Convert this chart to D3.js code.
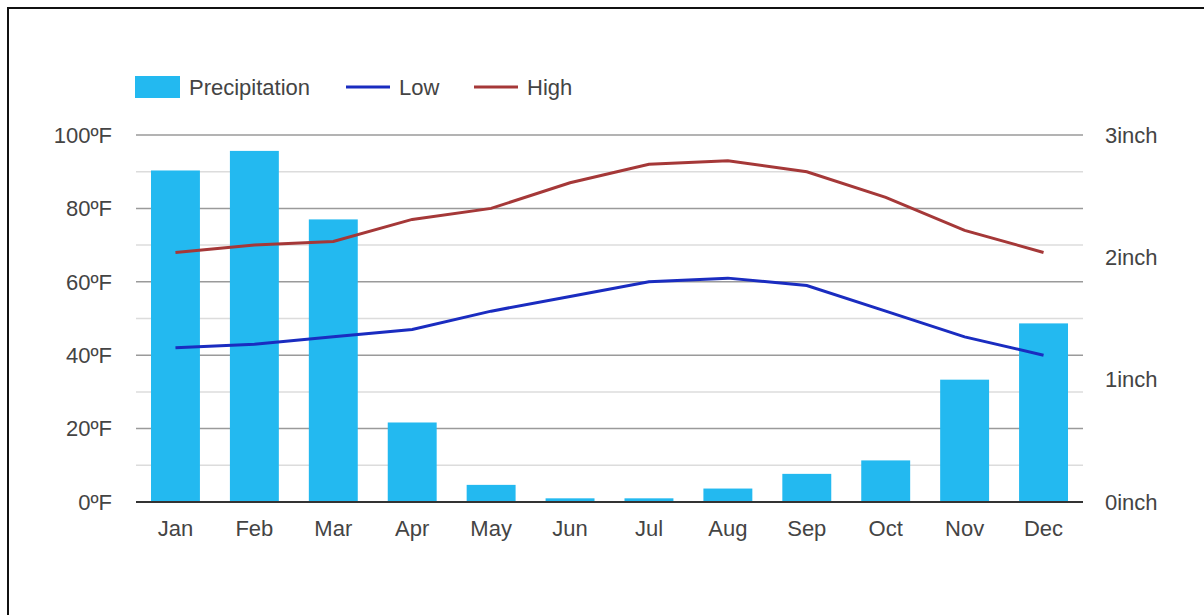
<!DOCTYPE html>
<html>
<head>
<meta charset="utf-8">
<script src="https://cdn.jsdelivr.net/npm/d3@7"></script>
<style>
  body { margin: 0; background: #fff; }
  svg { display: block; }
</style>
</head>
<body>
<script>
const months = ["Jan", "Feb", "Mar", "Apr", "May", "Jun", "Jul", "Aug", "Sep", "Oct", "Nov", "Dec"]
const precipitation = [2.71, 2.87, 2.31, 0.65, 0.14, 0.03, 0.03, 0.11, 0.23, 0.34, 1.0, 1.46]
const low = [42, 43, 45, 47, 52, 56, 60, 61, 59, 52, 45, 40]
const high = [68, 70, 71, 77, 80, 87, 92, 93, 90, 83, 74, 68]
const tempTicks = [0, 20, 40, 60, 80, 100]
const precipTicks = [0, 1, 2, 3]

const width = 1204, height = 615
const margin = {top: 135, right: 121, bottom: 113, left: 136}
const fontSize = 22

const svg = d3.select("body").append("svg")
  .attr("width", width)
  .attr("height", height)
  .attr("font-family", "'Liberation Sans', Arial, sans-serif")

// frame
svg.append("rect")
  .attr("x", 8).attr("y", 8)
  .attr("width", width).attr("height", height)
  .attr("fill", "none")
  .attr("stroke", "#111")
  .attr("stroke-width", 2)

const x = d3.scaleBand()
  .domain(months)
  .range([margin.left, width - margin.right])
  .paddingInner(0.38)
  .paddingOuter(0.19)

const yT = d3.scaleLinear().domain([0, 100]).range([height - margin.bottom, margin.top])
const yP = d3.scaleLinear().domain([0, 3]).range([height - margin.bottom, margin.top])

// grid
const gGrid = svg.append("g")
gGrid.selectAll("line")
  .data(d3.range(10, 100, 10))
  .join("line")
    .attr("x1", margin.left).attr("x2", width - margin.right)
    .attr("y1", d => yT(d)).attr("y2", d => yT(d))
    .attr("stroke", d => d % 20 === 0 ? "#9a9a9a" : "#dcdcdc")
    .attr("stroke-width", 1.5)
gGrid.append("line")
  .attr("x1", margin.left).attr("x2", width - margin.right)
  .attr("y1", yT(100)).attr("y2", yT(100))
  .attr("stroke", "#9a9a9a").attr("stroke-width", 1.5)

// bars
svg.append("g")
  .selectAll("rect")
  .data(months)
  .join("rect")
    .attr("x", d => x(d))
    .attr("width", x.bandwidth())
    .attr("y", (d, i) => yP(precipitation[i]))
    .attr("height", (d, i) => yP(0) - yP(precipitation[i]))
    .attr("fill", "#23b9f0")

// baseline
svg.append("line")
  .attr("x1", margin.left).attr("x2", width - margin.right)
  .attr("y1", yT(0)).attr("y2", yT(0))
  .attr("stroke", "#333").attr("stroke-width", 2)

const line = d3.line()
  .x((d, i) => x(months[i]) + x.bandwidth() / 2)
  .y(d => yT(d))

svg.append("path")
  .datum(low)
  .attr("d", line)
  .attr("fill", "none")
  .attr("stroke", "#1a2cc0")
  .attr("stroke-width", 3)

svg.append("path")
  .datum(high)
  .attr("d", line)
  .attr("fill", "none")
  .attr("stroke", "#a53838")
  .attr("stroke-width", 3)

// axes labels
const gText = svg.append("g")
  .attr("font-size", fontSize)
  .attr("fill", "#444")

gText.selectAll(".yl")
  .data(tempTicks)
  .join("text")
    .attr("x", 112)
    .attr("y", d => yT(d))
    .attr("dy", "0.35em")
    .attr("text-anchor", "end")
    .text(d => d + "ºF")

gText.selectAll(".yr")
  .data(precipTicks)
  .join("text")
    .attr("x", 1105)
    .attr("y", d => yP(d))
    .attr("dy", "0.35em")
    .text(d => d + "inch")

gText.selectAll(".xl")
  .data(months)
  .join("text")
    .attr("x", d => x(d) + x.bandwidth() / 2)
    .attr("y", 536)
    .attr("text-anchor", "middle")
    .text(d => d)

// legend
const legend = svg.append("g")
  .attr("font-size", fontSize)
  .attr("fill", "#444")
legend.append("rect")
  .attr("x", 135).attr("y", 76)
  .attr("width", 45).attr("height", 22)
  .attr("fill", "#23b9f0")
legend.append("text").attr("x", 189).attr("y", 87).attr("dy", "0.35em").text("Precipitation")
legend.append("line")
  .attr("x1", 346).attr("x2", 390).attr("y1", 87).attr("y2", 87)
  .attr("stroke", "#1a2cc0").attr("stroke-width", 3)
legend.append("text").attr("x", 399).attr("y", 87).attr("dy", "0.35em").text("Low")
legend.append("line")
  .attr("x1", 474).attr("x2", 518).attr("y1", 87).attr("y2", 87)
  .attr("stroke", "#a53838").attr("stroke-width", 3)
legend.append("text").attr("x", 527).attr("y", 87).attr("dy", "0.35em").text("High")
</script>
</body>
</html>
